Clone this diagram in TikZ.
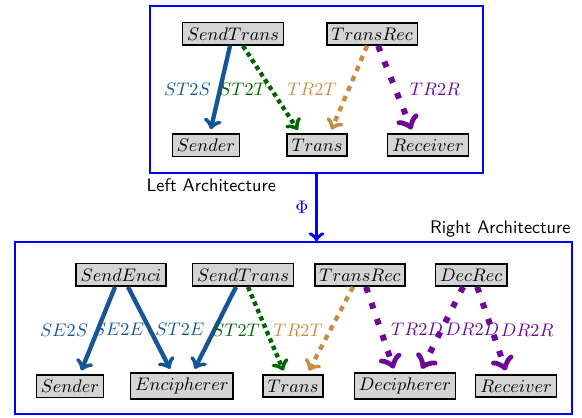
\documentclass[tikz,border=0pt]{standalone}
\usepackage{amsmath, amssymb}
\usepackage{xcolor}
\usepackage{tikz}
\usetikzlibrary{positioning}
\definecolor{linkblue}{RGB}{22,86,152}
\definecolor{linkgreen}{RGB}{0,100,0}
\definecolor{linktan}{RGB}{200,140,70}
\definecolor{linkpurple}{RGB}{108,10,150}
\tikzset{
    boxnode/.style = {draw, rectangle, fill=black!17, thick, inner xsep=0.25em, inner ysep=0.27em,
      node distance=0em, font=\normalsize},
    framenode/.style = {draw=blue, rectangle, line width=0.8pt, inner sep=0em, node distance=0em},
    textnode/.style  = {draw=none, fill=none, rectangle, inner sep=0em, font=\sffamily},
    bluelink/.style = {color=linkblue, line width=2.4pt, ->, shorten >=2.2pt},
    greenlink/.style = {color=linkgreen, line width=2.4pt, dotted, ->, shorten >=2.2pt},
    tanlink/.style = {color=linktan, line width=2.4pt, dashed, ->, shorten >=2.2pt},
    purplelink/.style = {color=linkpurple, line width=3.3pt, dash pattern=on 3.3pt off 6pt, ->, shorten >=2.2pt},
    phiarrow/.style = {blue, line width=2pt, ->}
}
\begin{document}
\begin{tikzpicture}[x=0.55pt, y=0.55pt, node distance=0em]
    \useasboundingbox (0,0) rectangle (582,418);
    % left architecture
    \node [boxnode, name=lST] at (233,384) {$SendTrans$};
    \node [boxnode, name=lTR, right of = lST, xshift=76.5pt] {$TransRec$};
    \node [boxnode, name=lS, below of = lST, xshift=-14.9pt, yshift=-61.1pt] {$Sender$};
    \node [boxnode, name=lT, right of = lS, xshift=61.1pt] {$Trans$};
    \node [boxnode, name=lR, right of = lT, xshift=61.1pt] {$Receiver$};
    \node [framenode, name=leftarch, minimum width=183.2pt, minimum height=91.9pt] at (316.5,328.5) {};
    \node [textnode, below right = 2.75pt and -1.65pt of leftarch.south west] {Left Architecture};

    \draw ([xshift=-1.65pt]lST.south) edge[bluelink] node[xshift=-17.9pt] {$ST2S$} ([xshift=2.2pt]lS.north);
    \draw ([xshift=5.5pt]lST.south) edge[greenlink] node[xshift=-15.7pt] {$ST2T$} ([xshift=-9.35pt]lT.north);
    \draw ([xshift=-2.75pt]lTR.south) edge[tanlink] node[xshift=-20.1pt] {$TR2T$} ([xshift=7.15pt]lT.north);
    \draw ([xshift=3.3pt]lTR.south) edge[purplelink] node[xshift=21.7pt] {$TR2R$} ([xshift=-8.25pt]lR.north);

    % right architecture
    \node [boxnode, name=rSE] at (121,143) {$SendEnci$};
    \node [boxnode, name=rST, right of = rSE, xshift=67.1pt] {$SendTrans$};
    \node [boxnode, name=rTR, right of = rST, xshift=64.4pt] {$TransRec$};
    \node [boxnode, name=rDR, right of = rTR, xshift=61.1pt] {$DecRec$};
    \node [boxnode, name=rS, below of = rSE, xshift=-28.1pt, yshift=-61.1pt] {$Sender$};
    \node [boxnode, name=rE, right of = rS, xshift=61.6pt] {$Encipherer$};
    \node [boxnode, name=rT, right of = rE, xshift=61.1pt] {$Trans$};
    \node [boxnode, name=rD, right of = rT, xshift=61.6pt] {$Decipherer$};
    \node [boxnode, name=rR, right of = rD, xshift=61.1pt] {$Receiver$};
    \node [framenode, name=rightarch, minimum width=306.4pt, minimum height=94.6pt] at (293.5,90) {};
    \node [textnode, above left = 2.2pt and 1.1pt of rightarch.north east] {Right Architecture};

    \draw ([xshift=-3.3pt]rSE.south) edge[bluelink] node[xshift=-18.4pt] {$SE2S$} ([xshift=5.5pt]rS.north);
    \draw ([xshift=3.85pt]rSE.south) edge[bluelink] node[xshift=-17.1pt] {$SE2E$} ([xshift=-5.5pt]rE.north);
    \draw ([xshift=-3.85pt]rST.south) edge[bluelink] node[xshift=-19pt] {$ST2E$} ([xshift=6.05pt]rE.north);
    \draw ([xshift=2.75pt]rST.south) edge[greenlink] node[xshift=-16.8pt] {$ST2T$} ([xshift=-4.4pt]rT.north);
    \draw ([xshift=-3.85pt]rTR.south) edge[tanlink] node[xshift=-17.6pt] {$TR2T$} ([xshift=7.7pt]rT.north);
    \draw ([xshift=3.3pt]rTR.south) edge[purplelink] node[xshift=20.1pt] {$TR2D$} ([xshift=-5.5pt]rD.north);
    \draw ([xshift=-4.4pt]rDR.south) edge[purplelink] node[xshift=16.8pt] {$DR2D$} ([xshift=8.25pt]rD.north);
    \draw ([xshift=3.3pt]rDR.south) edge[purplelink] node[xshift=19.3pt] {$DR2R$} ([xshift=-4.95pt]rR.north);

    % mapping between the two
    \draw (leftarch.south) edge[phiarrow] node[left] {$\Phi$} (leftarch.south |- rightarch.north);
\end{tikzpicture}
\end{document}
